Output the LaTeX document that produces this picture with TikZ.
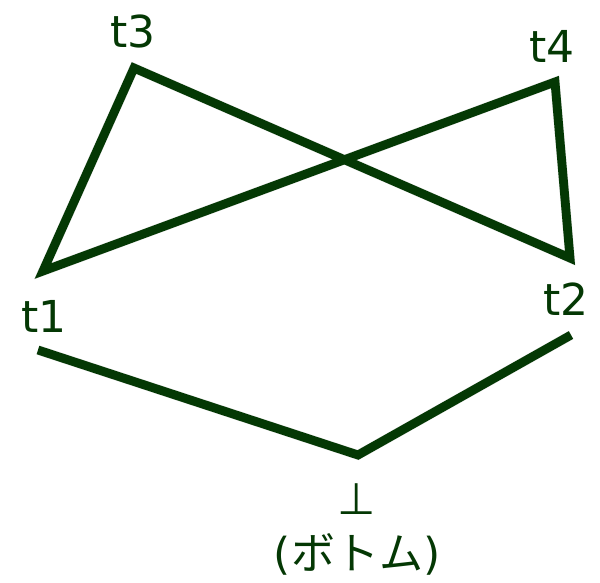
\documentclass[tikz,border=0pt]{standalone}
\usepackage{fontspec}
\setmainfont{DejaVu Sans}
\newfontfamily\jpfont{Noto Sans CJK JP}
\definecolor{edgegreen}{HTML}{043804}
\definecolor{labelgreen}{HTML}{043804}
\begin{document}
\begin{tikzpicture}[x=1pt,y=-1pt,
  edge/.style={line width=8.8pt,draw=edgegreen,line join=miter,line cap=butt},
  shade/.style={line width=9.5pt,draw=black,opacity=0.12,line join=miter},
  lbl/.style={text=labelgreen,font=\fontsize{44}{46}\selectfont,inner sep=0pt}]
\useasboundingbox (0,0) rectangle (600,582);
\coordinate (t1) at (43,271);
\coordinate (t3) at (134,68);
\coordinate (t2) at (570,258);
\coordinate (t4) at (555,82);
\coordinate (b1) at (38,350);
\coordinate (bot) at (358,455);
\coordinate (b2) at (571,335);
\begin{scope}[shift={(2,3)}]
\draw[shade] (t1) -- (t3) -- (t2) -- (t4) -- cycle;
\draw[shade] (b1) -- (bot) -- (b2);
\end{scope}
\draw[edge] (t1) -- (t3) -- (t2) -- (t4) -- cycle;
\draw[edge] (b1) -- (bot) -- (b2);
\node[lbl] (l3) at (133,31) {t3};
\node[lbl] (l4) at (552,46) {t4};
\node[lbl] (l1) at (44,316) {t1};
\node[lbl] (l2) at (566,299) {t2};
\node[lbl] (lb) at (357,499) {⊥};
\node[lbl] (lbt) at (357,554) {({\jpfont ボトム})};
\end{tikzpicture}
\end{document}
